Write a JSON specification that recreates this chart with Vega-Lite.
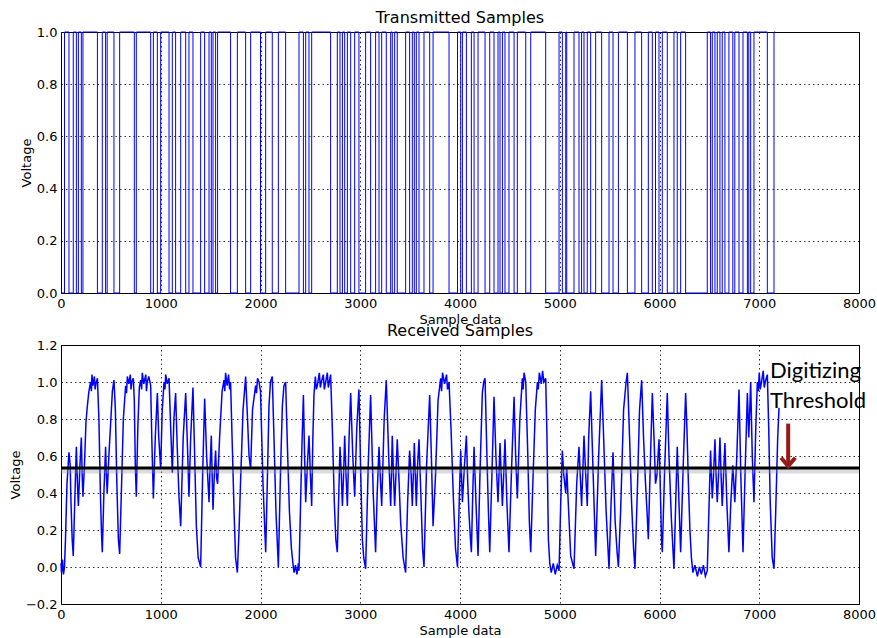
{
  "$schema": "https://vega.github.io/schema/vega-lite/v6.json",
  "padding": {"left": 8, "top": 9, "right": 5, "bottom": 5},
  "spacing": 52,
  "bounds": "flush",
  "config": {
    "view": {"stroke": "black", "strokeWidth": 1},
    "axis": {"labelFont": "DejaVu Sans", "labelFontSize": 13, "labelColor": "black", "titleFont": "DejaVu Sans", "titleFontSize": 13, "titleFontWeight": "normal", "titleColor": "black", "grid": true, "gridColor": "black", "gridDash": [1.5, 3], "gridOpacity": 1, "gridWidth": 0.8, "domain": false, "ticks": false, "labelPadding": 4, "labelFlush": false, "labelOverlap": false, "titlePadding": 3, "tickCount": 12},
    "title": {"font": "DejaVu Sans", "fontSize": 16, "fontWeight": "normal", "color": "black", "offset": 0}
  },
  "datasets": {
    "tx": [
      {"s": 0, "v": 0}, {"s": 35, "v": 1}, {"s": 80, "v": 0}, {"s": 123, "v": 1}, {"s": 154, "v": 0}, {"s": 174, "v": 1}, {"s": 204, "v": 0}, {"s": 220, "v": 1}, {"s": 365, "v": 0},
      {"s": 414, "v": 1}, {"s": 447, "v": 0}, {"s": 463, "v": 1}, {"s": 531, "v": 0}, {"s": 588, "v": 1}, {"s": 735, "v": 0}, {"s": 755, "v": 1}, {"s": 899, "v": 0},
      {"s": 926, "v": 1}, {"s": 966, "v": 0}, {"s": 999, "v": 1}, {"s": 1083, "v": 0}, {"s": 1116, "v": 1}, {"s": 1149, "v": 0}, {"s": 1200, "v": 1}, {"s": 1250, "v": 0},
      {"s": 1283, "v": 1}, {"s": 1323, "v": 0}, {"s": 1400, "v": 1}, {"s": 1440, "v": 0}, {"s": 1484, "v": 1}, {"s": 1507, "v": 0}, {"s": 1524, "v": 1}, {"s": 1550, "v": 0},
      {"s": 1570, "v": 1}, {"s": 1700, "v": 0}, {"s": 1768, "v": 1}, {"s": 1851, "v": 0}, {"s": 1901, "v": 1}, {"s": 2000, "v": 0}, {"s": 2052, "v": 1}, {"s": 2118, "v": 0},
      {"s": 2179, "v": 1}, {"s": 2252, "v": 0}, {"s": 2386, "v": 1}, {"s": 2430, "v": 0}, {"s": 2453, "v": 1}, {"s": 2486, "v": 0}, {"s": 2513, "v": 1}, {"s": 2703, "v": 0},
      {"s": 2770, "v": 1}, {"s": 2797, "v": 0}, {"s": 2821, "v": 1}, {"s": 2844, "v": 0}, {"s": 2871, "v": 1}, {"s": 2904, "v": 0}, {"s": 2944, "v": 1}, {"s": 2987, "v": 0},
      {"s": 3054, "v": 1}, {"s": 3104, "v": 0}, {"s": 3154, "v": 1}, {"s": 3188, "v": 0}, {"s": 3215, "v": 1}, {"s": 3261, "v": 0}, {"s": 3305, "v": 1}, {"s": 3321, "v": 0},
      {"s": 3345, "v": 1}, {"s": 3371, "v": 0}, {"s": 3455, "v": 1}, {"s": 3495, "v": 0}, {"s": 3522, "v": 1}, {"s": 3542, "v": 0}, {"s": 3562, "v": 1}, {"s": 3589, "v": 0},
      {"s": 3639, "v": 1}, {"s": 3696, "v": 0}, {"s": 3730, "v": 1}, {"s": 3890, "v": 0}, {"s": 3975, "v": 1}, {"s": 4007, "v": 0}, {"s": 4024, "v": 1}, {"s": 4064, "v": 0},
      {"s": 4114, "v": 1}, {"s": 4141, "v": 0}, {"s": 4181, "v": 1}, {"s": 4251, "v": 0}, {"s": 4298, "v": 1}, {"s": 4341, "v": 0}, {"s": 4381, "v": 1}, {"s": 4401, "v": 0},
      {"s": 4425, "v": 1}, {"s": 4451, "v": 0}, {"s": 4491, "v": 1}, {"s": 4542, "v": 0}, {"s": 4575, "v": 1}, {"s": 4659, "v": 0}, {"s": 4709, "v": 1}, {"s": 4859, "v": 0},
      {"s": 4993, "v": 1}, {"s": 5026, "v": 0}, {"s": 5060, "v": 1}, {"s": 5070, "v": 0}, {"s": 5143, "v": 1}, {"s": 5193, "v": 0}, {"s": 5219, "v": 1}, {"s": 5243, "v": 0},
      {"s": 5276, "v": 1}, {"s": 5310, "v": 0}, {"s": 5360, "v": 1}, {"s": 5420, "v": 0}, {"s": 5494, "v": 1}, {"s": 5534, "v": 0}, {"s": 5588, "v": 1}, {"s": 5678, "v": 0},
      {"s": 5754, "v": 1}, {"s": 5821, "v": 0}, {"s": 5888, "v": 1}, {"s": 5928, "v": 0}, {"s": 5960, "v": 1}, {"s": 5995, "v": 0}, {"s": 6028, "v": 1}, {"s": 6078, "v": 0},
      {"s": 6145, "v": 1}, {"s": 6178, "v": 0}, {"s": 6212, "v": 1}, {"s": 6262, "v": 0}, {"s": 6479, "v": 1}, {"s": 6512, "v": 0}, {"s": 6529, "v": 1}, {"s": 6556, "v": 0},
      {"s": 6579, "v": 1}, {"s": 6606, "v": 0}, {"s": 6629, "v": 1}, {"s": 6656, "v": 0}, {"s": 6696, "v": 1}, {"s": 6735, "v": 0}, {"s": 6755, "v": 1}, {"s": 6797, "v": 0},
      {"s": 6837, "v": 1}, {"s": 6881, "v": 0}, {"s": 6895, "v": 1}, {"s": 6914, "v": 0}, {"s": 6947, "v": 1}, {"s": 7081, "v": 0}, {"s": 7148, "v": 1}, {"s": 7160, "v": 1}
    ],
    "rx": [
      {"s": 0, "v": 0.02}, {"s": 5, "v": -0.03}, {"s": 15, "v": 0.04}, {"s": 25, "v": -0.04}, {"s": 35, "v": 0.0}, {"s": 45, "v": 0.15}, {"s": 60, "v": 0.45}, {"s": 80, "v": 0.62},
      {"s": 92, "v": 0.55}, {"s": 100, "v": 0.35}, {"s": 112, "v": 0.15}, {"s": 123, "v": 0.06}, {"s": 135, "v": 0.3}, {"s": 154, "v": 0.65}, {"s": 165, "v": 0.45}, {"s": 174, "v": 0.33},
      {"s": 190, "v": 0.55}, {"s": 204, "v": 0.7}, {"s": 212, "v": 0.5}, {"s": 220, "v": 0.38}, {"s": 235, "v": 0.55}, {"s": 250, "v": 0.78}, {"s": 264, "v": 0.87}, {"s": 280, "v": 0.95},
      {"s": 297, "v": 1.0}, {"s": 305, "v": 0.95}, {"s": 310, "v": 1.04}, {"s": 320, "v": 0.98}, {"s": 335, "v": 1.03}, {"s": 342, "v": 0.96}, {"s": 350, "v": 0.99}, {"s": 365, "v": 1.02},
      {"s": 380, "v": 0.8}, {"s": 395, "v": 0.4}, {"s": 405, "v": 0.2}, {"s": 414, "v": 0.08}, {"s": 430, "v": 0.4}, {"s": 447, "v": 0.65}, {"s": 455, "v": 0.5}, {"s": 463, "v": 0.4},
      {"s": 480, "v": 0.6}, {"s": 500, "v": 0.8}, {"s": 515, "v": 0.95}, {"s": 531, "v": 1.01}, {"s": 545, "v": 0.85}, {"s": 560, "v": 0.45}, {"s": 575, "v": 0.15}, {"s": 588, "v": 0.07},
      {"s": 605, "v": 0.4}, {"s": 625, "v": 0.8}, {"s": 648, "v": 0.98}, {"s": 657, "v": 0.94}, {"s": 665, "v": 1.03}, {"s": 680, "v": 0.99}, {"s": 695, "v": 1.04}, {"s": 702, "v": 0.96}, {"s": 710, "v": 1.0},
      {"s": 725, "v": 1.02}, {"s": 735, "v": 0.9}, {"s": 745, "v": 0.55}, {"s": 755, "v": 0.38}, {"s": 770, "v": 0.75}, {"s": 785, "v": 0.97}, {"s": 799, "v": 1.01}, {"s": 808, "v": 0.96},
      {"s": 815, "v": 1.05}, {"s": 830, "v": 0.99}, {"s": 850, "v": 1.04}, {"s": 857, "v": 0.95}, {"s": 865, "v": 1.0}, {"s": 880, "v": 1.03}, {"s": 899, "v": 0.98}, {"s": 910, "v": 0.7},
      {"s": 926, "v": 0.37}, {"s": 945, "v": 0.7}, {"s": 966, "v": 0.94}, {"s": 980, "v": 0.7}, {"s": 999, "v": 0.53}, {"s": 1015, "v": 0.85}, {"s": 1033, "v": 1.0}, {"s": 1042, "v": 0.96},
      {"s": 1050, "v": 1.04}, {"s": 1065, "v": 0.99}, {"s": 1083, "v": 1.02}, {"s": 1100, "v": 0.75}, {"s": 1116, "v": 0.51}, {"s": 1132, "v": 0.8}, {"s": 1149, "v": 0.94}, {"s": 1165, "v": 0.65},
      {"s": 1183, "v": 0.38}, {"s": 1200, "v": 0.22}, {"s": 1225, "v": 0.7}, {"s": 1250, "v": 0.94}, {"s": 1265, "v": 0.7}, {"s": 1283, "v": 0.38}, {"s": 1300, "v": 0.7}, {"s": 1323, "v": 0.97},
      {"s": 1340, "v": 0.6}, {"s": 1357, "v": 0.22}, {"s": 1375, "v": 0.05}, {"s": 1400, "v": 0.0}, {"s": 1420, "v": 0.5}, {"s": 1440, "v": 0.91}, {"s": 1460, "v": 0.6}, {"s": 1484, "v": 0.35},
      {"s": 1495, "v": 0.55}, {"s": 1507, "v": 0.71}, {"s": 1515, "v": 0.5}, {"s": 1524, "v": 0.31}, {"s": 1537, "v": 0.5}, {"s": 1550, "v": 0.63}, {"s": 1560, "v": 0.48}, {"s": 1570, "v": 0.45},
      {"s": 1590, "v": 0.7}, {"s": 1615, "v": 0.95}, {"s": 1634, "v": 1.01}, {"s": 1642, "v": 0.95}, {"s": 1650, "v": 1.05}, {"s": 1665, "v": 0.98}, {"s": 1680, "v": 1.04}, {"s": 1690, "v": 0.96}, {"s": 1700, "v": 1.0},
      {"s": 1715, "v": 0.7}, {"s": 1735, "v": 0.3}, {"s": 1750, "v": 0.05}, {"s": 1768, "v": -0.03}, {"s": 1785, "v": 0.2}, {"s": 1800, "v": 0.46}, {"s": 1825, "v": 0.85}, {"s": 1851, "v": 1.03},
      {"s": 1870, "v": 0.8}, {"s": 1885, "v": 0.6}, {"s": 1901, "v": 0.53}, {"s": 1920, "v": 0.85}, {"s": 1951, "v": 0.98}, {"s": 1960, "v": 0.94}, {"s": 1970, "v": 1.02}, {"s": 1985, "v": 1.0},
      {"s": 2000, "v": 0.95}, {"s": 2025, "v": 0.45}, {"s": 2052, "v": 0.08}, {"s": 2068, "v": 0.45}, {"s": 2085, "v": 0.87}, {"s": 2100, "v": 1.0}, {"s": 2118, "v": 1.03}, {"s": 2135, "v": 0.7},
      {"s": 2155, "v": 0.3}, {"s": 2179, "v": 0.0}, {"s": 2200, "v": 0.5}, {"s": 2219, "v": 0.87}, {"s": 2235, "v": 0.98}, {"s": 2252, "v": 1.0}, {"s": 2270, "v": 0.65}, {"s": 2290, "v": 0.3},
      {"s": 2310, "v": 0.1}, {"s": 2325, "v": 0.02}, {"s": 2336, "v": -0.03}, {"s": 2350, "v": 0.01}, {"s": 2365, "v": -0.04}, {"s": 2380, "v": 0.02}, {"s": 2386, "v": -0.02}, {"s": 2400, "v": 0.3},
      {"s": 2415, "v": 0.65}, {"s": 2430, "v": 0.93}, {"s": 2442, "v": 0.6}, {"s": 2453, "v": 0.35}, {"s": 2470, "v": 0.55}, {"s": 2486, "v": 0.71}, {"s": 2500, "v": 0.5}, {"s": 2513, "v": 0.33},
      {"s": 2525, "v": 0.7}, {"s": 2536, "v": 0.93}, {"s": 2550, "v": 1.03}, {"s": 2560, "v": 0.96}, {"s": 2570, "v": 0.98}, {"s": 2590, "v": 1.05}, {"s": 2600, "v": 0.97}, {"s": 2610, "v": 1.0}, {"s": 2630, "v": 1.04},
      {"s": 2640, "v": 0.96}, {"s": 2650, "v": 0.99}, {"s": 2670, "v": 1.05}, {"s": 2680, "v": 0.97}, {"s": 2690, "v": 1.0}, {"s": 2703, "v": 1.04}, {"s": 2720, "v": 0.75}, {"s": 2740, "v": 0.35}, {"s": 2755, "v": 0.15},
      {"s": 2770, "v": 0.08}, {"s": 2785, "v": 0.4}, {"s": 2797, "v": 0.65}, {"s": 2810, "v": 0.5}, {"s": 2821, "v": 0.33}, {"s": 2833, "v": 0.5}, {"s": 2844, "v": 0.71}, {"s": 2857, "v": 0.5},
      {"s": 2871, "v": 0.33}, {"s": 2888, "v": 0.7}, {"s": 2904, "v": 0.94}, {"s": 2925, "v": 0.6}, {"s": 2944, "v": 0.38}, {"s": 2965, "v": 0.75}, {"s": 2987, "v": 0.96}, {"s": 3005, "v": 0.5},
      {"s": 3021, "v": 0.15}, {"s": 3035, "v": 0.05}, {"s": 3054, "v": -0.01}, {"s": 3080, "v": 0.55}, {"s": 3104, "v": 0.93}, {"s": 3130, "v": 0.4}, {"s": 3154, "v": 0.08}, {"s": 3170, "v": 0.4},
      {"s": 3188, "v": 0.65}, {"s": 3200, "v": 0.5}, {"s": 3215, "v": 0.33}, {"s": 3240, "v": 0.8}, {"s": 3261, "v": 1.01}, {"s": 3285, "v": 0.6}, {"s": 3305, "v": 0.33}, {"s": 3313, "v": 0.5},
      {"s": 3321, "v": 0.71}, {"s": 3333, "v": 0.5}, {"s": 3345, "v": 0.33}, {"s": 3358, "v": 0.5}, {"s": 3371, "v": 0.69}, {"s": 3390, "v": 0.45}, {"s": 3405, "v": 0.24}, {"s": 3430, "v": 0.05},
      {"s": 3455, "v": -0.03}, {"s": 3475, "v": 0.35}, {"s": 3495, "v": 0.63}, {"s": 3510, "v": 0.5}, {"s": 3522, "v": 0.33}, {"s": 3532, "v": 0.5}, {"s": 3542, "v": 0.67}, {"s": 3552, "v": 0.5},
      {"s": 3562, "v": 0.33}, {"s": 3575, "v": 0.55}, {"s": 3589, "v": 0.69}, {"s": 3610, "v": 0.35}, {"s": 3625, "v": 0.1}, {"s": 3639, "v": 0.0}, {"s": 3665, "v": 0.55}, {"s": 3696, "v": 0.93},
      {"s": 3713, "v": 0.6}, {"s": 3730, "v": 0.22}, {"s": 3755, "v": 0.5}, {"s": 3780, "v": 0.9}, {"s": 3806, "v": 1.02}, {"s": 3815, "v": 0.95}, {"s": 3825, "v": 1.05}, {"s": 3845, "v": 0.99},
      {"s": 3865, "v": 1.04}, {"s": 3875, "v": 0.96}, {"s": 3890, "v": 1.0}, {"s": 3910, "v": 0.75}, {"s": 3935, "v": 0.35}, {"s": 3955, "v": 0.1}, {"s": 3975, "v": 0.0}, {"s": 3992, "v": 0.35},
      {"s": 4007, "v": 0.63}, {"s": 4015, "v": 0.5}, {"s": 4024, "v": 0.35}, {"s": 4045, "v": 0.55}, {"s": 4064, "v": 0.71}, {"s": 4078, "v": 0.45}, {"s": 4090, "v": 0.29}, {"s": 4105, "v": 0.15},
      {"s": 4114, "v": 0.08}, {"s": 4128, "v": 0.4}, {"s": 4141, "v": 0.65}, {"s": 4160, "v": 0.35}, {"s": 4181, "v": 0.06}, {"s": 4200, "v": 0.5}, {"s": 4224, "v": 0.94}, {"s": 4238, "v": 1.0},
      {"s": 4251, "v": 1.02}, {"s": 4270, "v": 0.6}, {"s": 4285, "v": 0.3}, {"s": 4298, "v": 0.08}, {"s": 4320, "v": 0.5}, {"s": 4341, "v": 0.92}, {"s": 4360, "v": 0.6}, {"s": 4381, "v": 0.35},
      {"s": 4391, "v": 0.5}, {"s": 4401, "v": 0.67}, {"s": 4413, "v": 0.5}, {"s": 4425, "v": 0.33}, {"s": 4438, "v": 0.5}, {"s": 4451, "v": 0.69}, {"s": 4470, "v": 0.35}, {"s": 4491, "v": 0.08},
      {"s": 4515, "v": 0.5}, {"s": 4542, "v": 0.92}, {"s": 4558, "v": 0.6}, {"s": 4575, "v": 0.37}, {"s": 4600, "v": 0.8}, {"s": 4625, "v": 1.02}, {"s": 4633, "v": 0.96}, {"s": 4642, "v": 1.05},
      {"s": 4659, "v": 1.0}, {"s": 4680, "v": 0.6}, {"s": 4695, "v": 0.25}, {"s": 4709, "v": 0.08}, {"s": 4730, "v": 0.45}, {"s": 4755, "v": 0.85}, {"s": 4776, "v": 1.0}, {"s": 4785, "v": 0.96},
      {"s": 4795, "v": 1.05}, {"s": 4815, "v": 0.99}, {"s": 4828, "v": 1.06}, {"s": 4840, "v": 1.0}, {"s": 4859, "v": 1.02}, {"s": 4872, "v": 0.7}, {"s": 4886, "v": 0.15}, {"s": 4900, "v": 0.02},
      {"s": 4915, "v": -0.03}, {"s": 4935, "v": 0.02}, {"s": 4955, "v": -0.04}, {"s": 4975, "v": 0.01}, {"s": 4993, "v": -0.02}, {"s": 5010, "v": 0.35}, {"s": 5026, "v": 0.63}, {"s": 5040, "v": 0.5},
      {"s": 5060, "v": 0.4}, {"s": 5070, "v": 0.54}, {"s": 5085, "v": 0.35}, {"s": 5110, "v": 0.06}, {"s": 5143, "v": -0.01}, {"s": 5170, "v": 0.45}, {"s": 5193, "v": 0.65}, {"s": 5205, "v": 0.5},
      {"s": 5219, "v": 0.33}, {"s": 5230, "v": 0.5}, {"s": 5243, "v": 0.71}, {"s": 5260, "v": 0.5}, {"s": 5276, "v": 0.33}, {"s": 5290, "v": 0.7}, {"s": 5310, "v": 0.95}, {"s": 5335, "v": 0.5},
      {"s": 5360, "v": 0.06}, {"s": 5390, "v": 0.6}, {"s": 5420, "v": 1.01}, {"s": 5440, "v": 0.7}, {"s": 5465, "v": 0.3}, {"s": 5494, "v": -0.01}, {"s": 5515, "v": 0.35}, {"s": 5534, "v": 0.62},
      {"s": 5555, "v": 0.25}, {"s": 5575, "v": 0.08}, {"s": 5588, "v": 0.0}, {"s": 5610, "v": 0.3}, {"s": 5640, "v": 0.85}, {"s": 5665, "v": 1.0}, {"s": 5678, "v": 1.05}, {"s": 5700, "v": 0.7},
      {"s": 5720, "v": 0.35}, {"s": 5740, "v": 0.1}, {"s": 5754, "v": -0.01}, {"s": 5780, "v": 0.45}, {"s": 5800, "v": 0.85}, {"s": 5821, "v": 1.01}, {"s": 5840, "v": 0.7}, {"s": 5860, "v": 0.45},
      {"s": 5875, "v": 0.3}, {"s": 5888, "v": 0.15}, {"s": 5910, "v": 0.6}, {"s": 5928, "v": 0.94}, {"s": 5945, "v": 0.7}, {"s": 5960, "v": 0.45}, {"s": 5975, "v": 0.5}, {"s": 5995, "v": 0.69},
      {"s": 6005, "v": 0.5}, {"s": 6020, "v": 0.15}, {"s": 6028, "v": 0.08}, {"s": 6050, "v": 0.5}, {"s": 6078, "v": 0.94}, {"s": 6095, "v": 0.6}, {"s": 6120, "v": 0.25}, {"s": 6145, "v": -0.01},
      {"s": 6165, "v": 0.4}, {"s": 6178, "v": 0.65}, {"s": 6195, "v": 0.35}, {"s": 6212, "v": 0.08}, {"s": 6235, "v": 0.5}, {"s": 6262, "v": 0.94}, {"s": 6275, "v": 0.75}, {"s": 6290, "v": 0.45},
      {"s": 6305, "v": 0.2}, {"s": 6320, "v": 0.05}, {"s": 6335, "v": -0.03}, {"s": 6355, "v": 0.01}, {"s": 6380, "v": -0.05}, {"s": 6400, "v": 0.0}, {"s": 6420, "v": -0.04}, {"s": 6440, "v": 0.01},
      {"s": 6460, "v": -0.05}, {"s": 6479, "v": -0.02}, {"s": 6495, "v": 0.3}, {"s": 6512, "v": 0.63}, {"s": 6520, "v": 0.5}, {"s": 6529, "v": 0.37}, {"s": 6542, "v": 0.5}, {"s": 6556, "v": 0.69},
      {"s": 6567, "v": 0.5}, {"s": 6579, "v": 0.35}, {"s": 6592, "v": 0.5}, {"s": 6606, "v": 0.7}, {"s": 6617, "v": 0.5}, {"s": 6629, "v": 0.33}, {"s": 6642, "v": 0.5}, {"s": 6656, "v": 0.67},
      {"s": 6675, "v": 0.35}, {"s": 6696, "v": 0.08}, {"s": 6715, "v": 0.35}, {"s": 6735, "v": 0.55}, {"s": 6755, "v": 0.35}, {"s": 6775, "v": 0.6}, {"s": 6797, "v": 0.96}, {"s": 6815, "v": 0.5},
      {"s": 6837, "v": 0.08}, {"s": 6860, "v": 0.55}, {"s": 6881, "v": 0.94}, {"s": 6895, "v": 0.7}, {"s": 6905, "v": 0.85}, {"s": 6914, "v": 1.0}, {"s": 6930, "v": 0.6}, {"s": 6947, "v": 0.35},
      {"s": 6965, "v": 0.75}, {"s": 6981, "v": 1.0}, {"s": 6990, "v": 0.95}, {"s": 7000, "v": 1.05}, {"s": 7010, "v": 0.96}, {"s": 7020, "v": 0.99}, {"s": 7040, "v": 1.06}, {"s": 7050, "v": 0.97}, {"s": 7060, "v": 1.0},
      {"s": 7081, "v": 1.04}, {"s": 7095, "v": 0.75}, {"s": 7110, "v": 0.35}, {"s": 7130, "v": 0.05}, {"s": 7148, "v": -0.01}, {"s": 7165, "v": 0.3}, {"s": 7185, "v": 0.7}, {"s": 7198, "v": 0.86}
    ],
    "thr": [{"v": 0.535}],
    "shadow": [{"v": 0.522}],
    "label": [{"s": 7108, "v": 1.06, "t": "Digitizing"}, {"s": 7108, "v": 0.9, "t": "Threshold"}],
    "arrow": [{"s": 7290, "v": 0.775, "v2": 0.555}],
    "head": [{"s": 7290, "v": 0.545}]
  },
  "vconcat": [
    {
      "width": 798,
      "height": 261,
      "title": {"text": "Transmitted Samples", "offset": 0},
      "data": {"name": "tx"},
      "mark": {"type": "line", "interpolate": "step-after", "color": "#0000ff", "strokeWidth": 1},
      "encoding": {
        "x": {"field": "s", "type": "quantitative", "scale": {"domain": [0, 8000], "nice": false}, "axis": {"title": "Sample data", "format": "d", "values": [0, 1000, 2000, 3000, 4000, 5000, 6000, 7000, 8000]}},
        "y": {"field": "v", "type": "quantitative", "scale": {"domain": [0, 1], "nice": false}, "axis": {"title": "Voltage", "values": [0, 0.2, 0.4, 0.6, 0.8, 1.0], "format": ".1f"}}
      }
    },
    {
      "width": 798,
      "height": 259,
      "title": {"text": "Received Samples", "offset": 0},
      "layer": [
        {
          "data": {"name": "rx"},
          "mark": {"type": "line", "color": "#0000ff", "strokeWidth": 1.5},
          "encoding": {
            "x": {"field": "s", "type": "quantitative", "scale": {"domain": [0, 8000], "nice": false}, "axis": {"title": "Sample data", "format": "d", "values": [0, 1000, 2000, 3000, 4000, 5000, 6000, 7000, 8000]}},
            "y": {"field": "v", "type": "quantitative", "scale": {"domain": [-0.2, 1.2], "nice": false}, "axis": {"title": "Voltage", "values": [-0.2, 0, 0.2, 0.4, 0.6, 0.8, 1.0, 1.2], "format": ".1f", "tickCount": 12}}
          }
        },
        {
          "data": {"name": "shadow"},
          "mark": {"type": "rule", "color": "#999999", "strokeWidth": 6, "opacity": 0.35},
          "encoding": {"y": {"field": "v", "type": "quantitative"}}
        },
        {
          "data": {"name": "thr"},
          "mark": {"type": "rule", "color": "black", "strokeWidth": 3},
          "encoding": {"y": {"field": "v", "type": "quantitative"}}
        },
        {
          "data": {"name": "label"},
          "mark": {"type": "text", "font": "Lato", "fontSize": 22, "align": "left", "baseline": "middle", "color": "black"},
          "encoding": {"x": {"field": "s", "type": "quantitative"}, "y": {"field": "v", "type": "quantitative"}, "text": {"field": "t"}}
        },
        {
          "data": {"name": "arrow"},
          "mark": {"type": "rule", "color": "#951b14", "strokeWidth": 4},
          "encoding": {"x": {"field": "s", "type": "quantitative"}, "y": {"field": "v", "type": "quantitative"}, "y2": {"field": "v2"}}
        },
        {
          "data": {"name": "head"},
          "mark": {"type": "point", "shape": "M-1,-1.2L0,0L1,-1.2", "filled": false, "stroke": "#951b14", "strokeWidth": 4, "size": 200, "opacity": 1},
          "encoding": {"x": {"field": "s", "type": "quantitative"}, "y": {"field": "v", "type": "quantitative"}}
        }
      ]
    }
  ]
}
